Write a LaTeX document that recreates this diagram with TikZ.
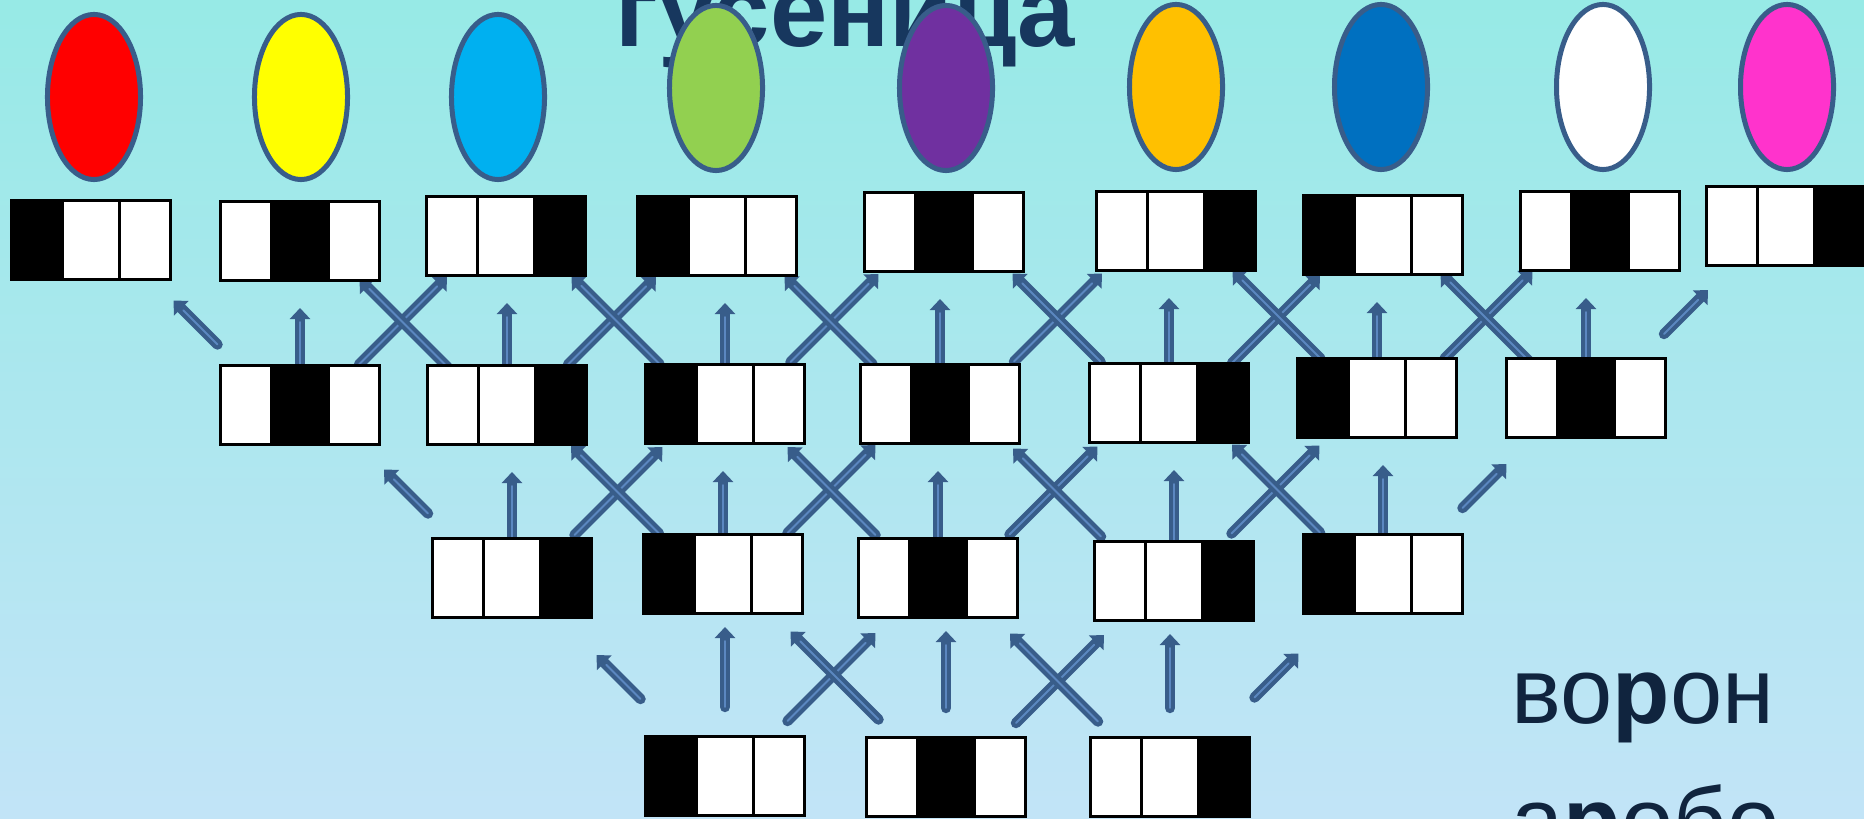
\documentclass[tikz,border=0pt]{standalone}
\usepackage{fontspec}
\setmainfont{Liberation Sans}
\usetikzlibrary{shapes.geometric, calc, arrows.meta}
\definecolor{linkdark}{HTML}{385D8A}
\definecolor{linklight}{HTML}{5B87C0}
\definecolor{titleblue}{HTML}{17375E}
\definecolor{wordblue}{HTML}{10243E}
\definecolor{skytop}{RGB}{151,234,230}
\definecolor{skybottom}{RGB}{194,228,247}
\definecolor{eggred}{HTML}{FF0000}
\definecolor{eggyellow}{HTML}{FFFF00}
\definecolor{eggcyan}{HTML}{00B0F0}
\definecolor{egggreen}{HTML}{92D050}
\definecolor{eggpurple}{HTML}{7030A0}
\definecolor{eggorange}{HTML}{FFC000}
\definecolor{eggblue}{HTML}{0070C0}
\definecolor{eggwhite}{HTML}{FFFFFF}
\definecolor{eggpink}{HTML}{FF33CC}
\pgfdeclarelayer{back}
\pgfdeclarelayer{links}
\pgfsetlayers{back,links,main}
\tikzset{
  egg/.style={ellipse, draw=linkdark, line width=0.05cm, minimum width=0.93cm, minimum height=1.65cm, inner sep=0pt},
  cellbox/.style={draw, line width=0.03cm, fill=white, minimum width=1.58cm, minimum height=0.79cm, inner sep=0pt,
    path picture={
      \ifcase#1\or\def\lo{0}\def\hi{.32}\or\def\lo{.32}\def\hi{.68}\or\def\lo{.68}\def\hi{1}\fi
      \fill[black] ($(path picture bounding box.north west)!\lo!(path picture bounding box.north east)$) rectangle ($(path picture bounding box.south west)!\hi!(path picture bounding box.south east)$);
      \foreach \t in {.32,.68}
        \draw[black, line width=0.025cm] ($(path picture bounding box.north west)!\t!(path picture bounding box.north east)$) -- ($(path picture bounding box.south west)!\t!(path picture bounding box.south east)$);
    }},
  link/.style={draw=linkdark, line width=0.105cm, line cap=round, -{Triangle[width=0.2cm,length=0.11cm]},
    postaction={draw=linklight, line width=0.02cm, -, shorten >=0.14cm}}
}

\begin{document}
\begin{tikzpicture}[x=0.01cm, y=-0.01cm]
\useasboundingbox (0,0) rectangle (1864,819);
\clip (0,0) rectangle (1864,819);
\begin{pgfonlayer}{back}
\shade[top color=skytop, bottom color=skybottom] (0,0) rectangle (1864,819);
\end{pgfonlayer}

\node[font=\bfseries\fontsize{29.3}{30}\selectfont, text=titleblue, anchor=base, inner sep=0pt] (title) at (845,47) {гусеница};

\foreach \i/\x/\y/\c in {1/94/97/eggred, 2/301/97/eggyellow, 3/498/97/eggcyan, 4/716/88/egggreen, 5/946/88/eggpurple,
    6/1176/87/eggorange, 7/1381/87/eggblue, 8/1603/87/eggwhite, 9/1787/87/eggpink}
  \node[egg, fill=\c] (e\i) at (\x,\y) {};

\foreach \r/\i/\x/\y/\p in {1/1/91/240/1, 1/2/300/241/2, 1/3/506/236/3, 1/4/717/236/1, 1/5/944/232/2,
    1/6/1176/231/3, 1/7/1383/235/1, 1/8/1600/231/2, 1/9/1786/226/3,
    2/1/300/405/2, 2/2/507/405/3, 2/3/725/404/1, 2/4/940/404/2, 2/5/1169/403/3, 2/6/1377/398/1, 2/7/1586/398/2,
    3/1/512/578/3, 3/2/723/574/1, 3/3/938/578/2, 3/4/1174/581/3, 3/5/1383/574/1,
    4/1/725/776/1, 4/2/946/777/2, 4/3/1170/777/3}
  \node[cellbox=\p] (b\r-\i) at (\x,\y) {};

\begin{pgfonlayer}{links}
\foreach \r/\n in {2/7,3/5,4/3} {
  \pgfmathtruncatemacro\u{\r-1}
  \pgfmathsetmacro\lift{\r==4 ? 28 : 0}
  \pgfmathsetmacro\gap{\r==4 ? 12 : 26}
  \foreach \k in {1,...,\n} {
    \pgfmathtruncatemacro\m{\k+1}
    \pgfmathtruncatemacro\mm{\k+2}
    \pgfmathsetmacro\hl{\k==1 ? 22 : 44}
    \pgfmathsetmacro\hr{\k==\n ? 22 : 44}
    \draw[link] ($(b\r-\k.north)+(0,-\lift)$) -- ($(b\r-\k.north |- b\u-\m.south)+(0,\gap)$);
    \draw[link] ($(b\r-\k.north west)!.5!(b\u-\k.south east)+(\hl,\hl)$) -- ($(b\r-\k.north west)!.5!(b\u-\k.south east)+(-\hl,-\hl)$);
    \draw[link] ($(b\r-\k.north east)!.5!(b\u-\mm.south west)+(-\hr,\hr)$) -- ($(b\r-\k.north east)!.5!(b\u-\mm.south west)+(\hr,-\hr)$);
  }
}
\end{pgfonlayer}

\node[font=\fontsize{26.7}{30}\selectfont, text=wordblue, anchor=base west, inner sep=0pt] (crow) at (1511,723) {во\textbf{р}он};
\node[font=\fontsize{26.7}{30}\selectfont, text=wordblue, anchor=base west, inner sep=0pt] (word) at (1511,853) {а\textbf{р}обо};
\end{tikzpicture}
\end{document}
